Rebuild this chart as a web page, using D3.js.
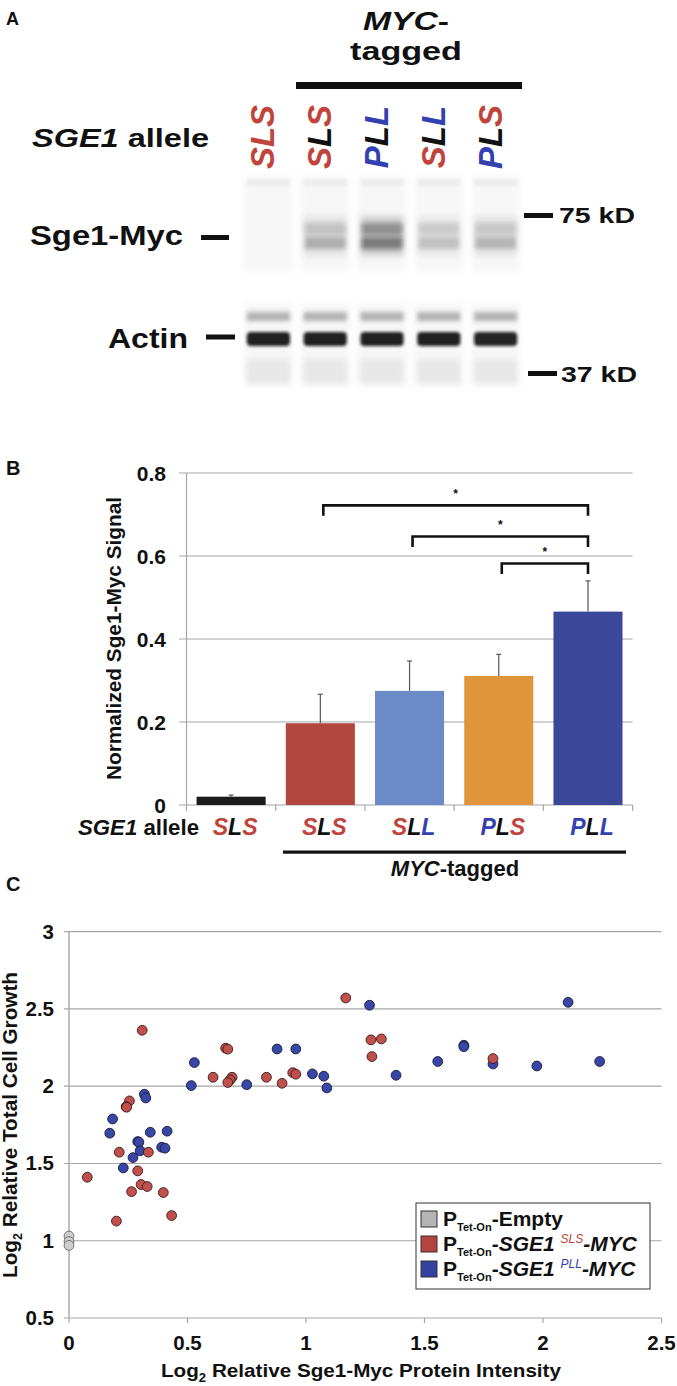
<!DOCTYPE html>
<html><head><meta charset="utf-8">
<script src="https://cdn.jsdelivr.net/npm/d3@7"></script>
<style>
body{margin:0;background:#fff}
svg{display:block}
text{font-family:"Liberation Sans",Arial,Helvetica,sans-serif;font-weight:bold;fill:#111}
</style></head>
<body><svg id="c" width="677" height="1386"></svg>
<script>
// ---------- data ----------
const laneAlleles = ["SLS","SLS","PLL","SLL","PLS"];
const laneTagged  = [false,true,true,true,true];
const mycBand   = [0.0, 0.42, 0.82, 0.30, 0.38];
const actinBand = [0.92, 0.92, 0.92, 0.92, 0.90];

const barCategories = ["SLS","SLS","SLL","PLS","PLL"];
const barValues = [0.020, 0.197, 0.275, 0.311, 0.466];
const barErrors = [0.004, 0.070, 0.072, 0.052, 0.074];
const barColors = ["#1b1b1b","#b3463f","#6b8bc8","#e0953b","#3b4799"];
const barYTicks = [0, 0.2, 0.4, 0.6, 0.8];
const sigPairs = [[1,4],[2,4],[3,4]];

const emptyX = [0, 0, 0];
const emptyY = [1.03, 0.995, 0.97];
const slsX = [1.168,0.309,0.661,0.670,0.608,0.688,0.680,0.670,0.833,0.899,0.944,0.957,0.255,0.241,0.243,1.274,1.318,1.278,1.789,0.212,0.335,0.290,0.077,0.304,0.330,0.264,0.398,0.433,0.200];
const slsY = [2.571,2.362,2.246,2.240,2.058,2.058,2.041,2.024,2.058,2.019,2.088,2.078,1.905,1.868,1.864,2.300,2.306,2.192,2.179,1.573,1.573,1.452,1.411,1.364,1.351,1.318,1.312,1.163,1.127];
const pllX = [0.529,0.878,0.957,0.516,0.750,1.027,1.075,1.088,0.318,0.324,0.184,0.172,0.343,0.414,0.290,0.295,0.391,0.405,0.300,0.270,0.229,1.268,1.380,1.556,1.666,1.666,1.789,1.974,2.106,2.239];
const pllY = [2.153,2.241,2.241,2.004,2.010,2.080,2.065,1.989,1.948,1.924,1.788,1.696,1.702,1.709,1.642,1.638,1.605,1.599,1.582,1.538,1.471,2.524,2.071,2.160,2.265,2.256,2.144,2.131,2.543,2.160];
const scatterXTicks = [0,0.5,1,1.5,2,2.5];
const scatterYTicks = [0.5,1,1.5,2,2.5,3];

const RED = "#c0433c", BLUE = "#3340b0";

// ---------- helpers ----------
const svg = d3.select("#c");
function txt(g, x, y, parts, o = {}) {
  const t = g.append("text").attr("x", x).attr("y", y)
    .attr("font-size", o.size || 16)
    .attr("text-anchor", o.anchor || "start");
  if (o.len) t.attr("textLength", o.len).attr("lengthAdjust", "spacingAndGlyphs");
  if (o.rotate) t.attr("transform", `rotate(-90,${x},${y})`);
  if (o.weight) t.attr("font-weight", o.weight);
  if (typeof parts === "string") parts = [[parts, {}]];
  parts.forEach(([s, p]) => {
    const ts = t.append("tspan").text(s);
    if (p.italic) ts.attr("font-style", "italic");
    if (p.fill) ts.style("fill", p.fill);
    if (p.size) ts.attr("font-size", p.size);
    if (p.dy) ts.attr("dy", p.dy);
    if (p.weight) ts.attr("font-weight", p.weight);
  });
  return t;
}
function letterColor(s, i, all) {
  if (all) return RED;
  const c = s[i];
  if (c === "S") return RED;
  if (c === "P") return BLUE;
  return i === 1 ? "#111" : BLUE;
}

const defs = svg.append("defs");
function blur(id, sd) {
  defs.append("filter").attr("id", id).attr("x","-30%").attr("y","-80%").attr("width","160%").attr("height","260%")
    .append("feGaussianBlur").attr("stdDeviation", sd);
}
blur("blur", 1.4); blur("blur2", 3); blur("blur3", 2.2);

// ================= PANEL A =================
const A = svg.append("g");
txt(A, 6, 25, "A", {size: 18});
txt(A, 406, 30, [["MYC", {italic:true}], ["-", {}]], {size: 26, anchor: "middle", len: 86});
txt(A, 406, 60, "tagged", {size: 26, anchor: "middle", len: 112});
A.append("rect").attr("x", 296).attr("y", 82).attr("width", 226).attr("height", 7).attr("fill", "#111");
txt(A, 32, 147, [["SGE1", {italic:true}], [" allele", {}]], {size: 26, len: 177});

const lane = d3.scaleBand().domain(d3.range(5)).range([240, 524]).paddingInner(0.24).paddingOuter(0.12);

// rotated allele labels
laneAlleles.forEach((s, i) => {
  const cx = lane(i) + lane.bandwidth()/2 - 6;
  txt(A, cx + 12, 137, s.split("").map((ch, k) => [ch, {italic:true, fill: letterColor(s, k, !laneTagged[i])}]),
      {size: 33, anchor: "middle", rotate: true});
});

// blot
const blot = A.append("g");
const lanes = blot.selectAll("g.lane").data(d3.range(5)).join("g");
// faint lane backgrounds
lanes.append("rect").attr("x", i => lane(i) - 3).attr("width", lane.bandwidth() + 6)
  .attr("y", 176).attr("height", 96).attr("fill", "rgba(0,0,0,0.03)").attr("filter","url(#blur2)");
lanes.append("rect").attr("x", i => lane(i)).attr("width", lane.bandwidth())
  .attr("y", 179).attr("height", 7).attr("fill", "rgba(0,0,0,0.04)").attr("filter","url(#blur)");
// myc bands
lanes.append("rect").attr("x", i => lane(i)).attr("width", lane.bandwidth())
  .attr("y", 216).attr("height", 40).attr("fill", i => `rgba(0,0,0,${mycBand[i]*0.2})`).attr("filter","url(#blur2)");
lanes.append("rect").attr("x", i => lane(i) + 1).attr("width", lane.bandwidth() - 2)
  .attr("y", 223).attr("height", 12).attr("fill", i => `rgba(30,30,30,${mycBand[i]*0.42})`).attr("filter","url(#blur3)");
lanes.append("rect").attr("x", i => lane(i) + 1).attr("width", lane.bandwidth() - 2)
  .attr("y", 237).attr("height", 12).attr("fill", i => `rgba(20,20,20,${mycBand[i]*0.55})`).attr("filter","url(#blur3)");
// actin region
lanes.append("rect").attr("x", i => lane(i) - 3).attr("width", lane.bandwidth() + 6)
  .attr("y", 303).attr("height", 84).attr("fill", "rgba(0,0,0,0.035)").attr("filter","url(#blur2)");
lanes.append("rect").attr("x", i => lane(i)).attr("width", lane.bandwidth())
  .attr("y", 312).attr("height", 9).attr("fill", i => `rgba(0,0,0,${actinBand[i]*0.3})`).attr("filter","url(#blur3)");
lanes.append("rect").attr("x", i => lane(i)).attr("width", lane.bandwidth())
  .attr("y", 332).attr("height", 14).attr("rx", 4).attr("fill", i => `rgba(15,15,15,${actinBand[i]})`).attr("filter","url(#blur)");
lanes.append("rect").attr("x", i => lane(i)).attr("width", lane.bandwidth())
  .attr("y", 360).attr("height", 23).attr("fill", i => `rgba(0,0,0,${actinBand[i]*0.07})`).attr("filter","url(#blur2)");

txt(A, 30, 245, "Sge1-Myc", {size: 28, len: 153});
A.append("rect").attr("x", 201).attr("y", 235).attr("width", 28).attr("height", 5).attr("fill", "#111");
A.append("rect").attr("x", 524).attr("y", 213).attr("width", 29).attr("height", 5).attr("fill", "#111");
txt(A, 559, 223, "75 kD", {size: 22, len: 76});
txt(A, 108, 348, "Actin", {size: 28, len: 80});
A.append("rect").attr("x", 206).attr("y", 334.5).attr("width", 29).attr("height", 5).attr("fill", "#111");
A.append("rect").attr("x", 528).attr("y", 371).attr("width", 29).attr("height", 5).attr("fill", "#111");
txt(A, 561, 382, "37 kD", {size: 22, len: 76});

// ================= PANEL B =================
const B = svg.append("g");
txt(B, 6, 475, "B", {size: 20});
const bx = d3.scaleBand().domain(d3.range(5)).range([186.5, 632.6]).paddingInner(0.226).paddingOuter(0.113);
const by = d3.scaleLinear().domain([0, 0.8]).range([805, 473]);

B.selectAll("line.grid").data(barYTicks).join("line")
  .attr("x1", 179).attr("x2", 632.6).attr("y1", d => by(d)).attr("y2", d => by(d))
  .attr("stroke", "#a6a6a6").attr("stroke-width", 1.2);
B.append("line").attr("x1", 186.5).attr("x2", 186.5).attr("y1", by(0.8)).attr("y2", by(0))
  .attr("stroke", "#a6a6a6").attr("stroke-width", 1.2);
B.selectAll("line.ctick").data(d3.range(6)).join("line")
  .attr("x1", i => 186.5 + i * bx.step()).attr("x2", i => 186.5 + i * bx.step())
  .attr("y1", 805).attr("y2", 811).attr("stroke", "#a6a6a6").attr("stroke-width", 1.2);
B.selectAll("text.ytl").data(barYTicks).join("text")
  .attr("x", 166).attr("y", d => by(d) + 7.5).attr("text-anchor", "end").attr("font-size", 21)
  .text(d => d === 0 ? "0" : d3.format(".1f")(d));
txt(B, 121, 638.5, "Normalized Sge1-Myc Signal", {size: 20.5, anchor: "middle", rotate: true, len: 283});

B.selectAll("rect.bar").data(barValues).join("rect")
  .attr("x", (d, i) => bx(i)).attr("width", bx.bandwidth())
  .attr("y", d => by(d)).attr("height", d => by(0) - by(d))
  .attr("fill", (d, i) => barColors[i]);
B.selectAll("line.err").data(barValues).join("line")
  .attr("x1", (d, i) => bx(i) + bx.bandwidth()/2).attr("x2", (d, i) => bx(i) + bx.bandwidth()/2)
  .attr("y1", d => by(d)).attr("y2", (d, i) => by(d + barErrors[i]))
  .attr("stroke", "#555").attr("stroke-width", 1.2);
B.selectAll("line.cap").data(barValues).join("line")
  .attr("x1", (d, i) => bx(i) + bx.bandwidth()/2 - 2.5).attr("x2", (d, i) => bx(i) + bx.bandwidth()/2 + 2.5)
  .attr("y1", (d, i) => by(d + barErrors[i])).attr("y2", (d, i) => by(d + barErrors[i]))
  .attr("stroke", "#555").attr("stroke-width", 1.2);

const brTop = [0.722, 0.647, 0.582];
sigPairs.forEach(([a, b], k) => {
  const x1 = bx(a) + bx.bandwidth()/2 + 3, x2 = bx(b) + bx.bandwidth()/2;
  const yt = by(brTop[k]), yb = yt + 10.5;
  B.append("path").attr("d", `M${x1},${yb}V${yt}H${x2}V${yb}`)
    .attr("fill", "none").attr("stroke", "#111").attr("stroke-width", 2.6);
  B.append("text").attr("x", (x1 + x2)/2).attr("y", yt - 7).attr("text-anchor", "middle")
    .attr("font-size", 12).attr("font-weight", "normal").text("*");
});

txt(B, 78, 835, [["SGE1", {italic:true}], [" allele", {}]], {size: 22.5, len: 121});
barCategories.forEach((s, i) => {
  txt(B, bx(i) + bx.bandwidth()/2 + 4, 835,
      s.split("").map((ch, k) => [ch, {italic:true, fill: letterColor(s, k, false)}]),
      {size: 23, anchor: "middle"});
});
B.append("rect").attr("x", 283).attr("y", 850.5).attr("width", 343).attr("height", 3.2).attr("fill", "#111");
txt(B, 455, 876, [["MYC", {italic:true}], ["-tagged", {}]], {size: 22, anchor: "middle"});

// ================= PANEL C =================
const C = svg.append("g");
txt(C, 6, 891, "C", {size: 20});
const sx = d3.scaleLinear().domain([0, 2.5]).range([69, 661.5]);
const sy = d3.scaleLinear().domain([0.5, 3]).range([1318, 931.7]);

C.selectAll("line.sgrid").data(scatterYTicks).join("line")
  .attr("x1", 64).attr("x2", 661.5).attr("y1", d => sy(d)).attr("y2", d => sy(d))
  .attr("stroke", "#a6a6a6").attr("stroke-width", 1.2);
C.append("line").attr("x1", 69).attr("x2", 69).attr("y1", sy(3)).attr("y2", sy(0.5))
  .attr("stroke", "#a6a6a6").attr("stroke-width", 1.4);
C.selectAll("line.sxt").data(scatterXTicks).join("line")
  .attr("x1", d => sx(d)).attr("x2", d => sx(d)).attr("y1", sy(0.5)).attr("y2", sy(0.5) + 5)
  .attr("stroke", "#a6a6a6").attr("stroke-width", 1.2);
C.selectAll("text.syl").data(scatterYTicks).join("text")
  .attr("x", 54).attr("y", d => sy(d) + 7).attr("text-anchor", "end").attr("font-size", 20.5)
  .text(d => String(d));
C.selectAll("text.sxl").data(scatterXTicks).join("text")
  .attr("x", d => sx(d)).attr("y", 1350).attr("text-anchor", "middle").attr("font-size", 20.5)
  .text(d => String(d));
txt(C, 361, 1377, [["Log", {}], ["2", {size: 12, dy: 5}], [" Relative Sge1-Myc Protein Intensity", {dy: -5}]],
    {size: 19, anchor: "middle", len: 400});
txt(C, 17, 1125, [["Log", {}], ["2", {size: 12, dy: 5}], [" Relative Total Cell Growth", {dy: -5}]],
    {size: 20, anchor: "middle", rotate: true, len: 306});

function dots(xs, ys, fill, stroke) {
  C.append("g").selectAll("circle").data(xs.map((x, i) => [x, ys[i]])).join("circle")
    .attr("cx", d => sx(d[0])).attr("cy", d => sy(d[1])).attr("r", 4.9)
    .attr("fill", fill).attr("stroke", stroke).attr("stroke-width", 0.9);
}
dots(emptyX, emptyY, "#cfcfcf", "#666");
dots(pllX, pllY, "#3a46a6", "#1c1c3a");
dots(slsX, slsY, "#c0504d", "#3a1a1a");

// legend
const L = C.append("g");
L.append("rect").attr("x", 416).attr("y", 1203).attr("width", 234).attr("height", 86)
  .attr("fill", "#fff").attr("stroke", "#333").attr("stroke-width", 1);
const legItems = [
  {fill: "#b5b5b5", parts: [["-Empty", {}]]},
  {fill: "#b3453e", parts: [["-", {}], ["SGE1 ", {italic:true}], ["SLS", {italic:true, size: 12, dy: -8, fill: RED, weight: "normal"}], ["-MYC", {italic:true, dy: 8}]]},
  {fill: "#3541a0", parts: [["-", {}], ["SGE1 ", {italic:true}], ["PLL", {italic:true, size: 12, dy: -8, fill: BLUE, weight: "normal"}], ["-MYC", {italic:true, dy: 8}]]}
];
legItems.forEach((it, k) => {
  const y0 = 1211 + k * 25;
  L.append("rect").attr("x", 421).attr("y", y0).attr("width", 16).attr("height", 16)
    .attr("fill", it.fill).attr("stroke", "#333").attr("stroke-width", 1);
  txt(L, 443, y0 + 15, [["P", {}], ["Tet-On", {size: 11, dy: 5}], [it.parts[0][0], Object.assign({dy: -5}, it.parts[0][1])]].concat(it.parts.slice(1)),
      {size: 21});
});
</script></body></html>
